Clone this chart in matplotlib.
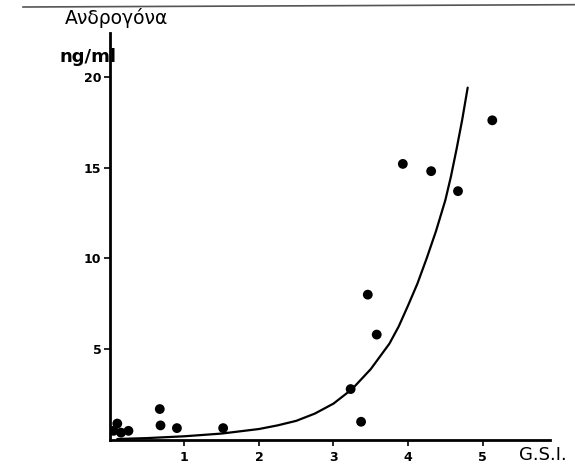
import matplotlib
matplotlib.use("Agg")
import matplotlib.pyplot as plt
from matplotlib.lines import Line2D

# Data
gsi = [0.05, 0.10, 0.15, 0.25, 0.67, 0.68, 0.90, 1.52, 3.23, 3.37, 3.46, 3.58, 3.93, 4.31, 4.67, 5.13]
androgen = [0.5, 0.9, 0.4, 0.5, 1.7, 0.8, 0.65, 0.65, 2.8, 1.0, 8.0, 5.8, 15.2, 14.8, 13.7, 17.6]

curve_x = [0.1, 0.5, 1.0, 1.5, 2.0, 2.25, 2.5, 2.75, 3.0, 3.25, 3.5, 3.75, 3.875, 4.0,
           4.125, 4.25, 4.375, 4.5, 4.575, 4.65, 4.725, 4.8]
curve_y = [0.05, 0.1, 0.2, 0.35, 0.6, 0.8, 1.05, 1.45, 2.0, 2.8, 3.9, 5.3, 6.25, 7.4,
           8.6, 10.0, 11.5, 13.2, 14.5, 16.0, 17.6, 19.4]

x_ticks = [1, 2, 3, 4, 5]
y_ticks = [5, 10, 15, 20]
y_tick_labels = ["5", "10", "15", "20"]

fig = plt.figure(figsize=(5.75, 4.67), dpi=100)
ax = fig.add_axes([0.191, 0.058, 0.765, 0.871])
ax.set_xlim(0, 5.9)
ax.set_ylim(0, 22.4)

ax.plot(curve_x, curve_y, color="black", lw=1.6, solid_capstyle="round",
        solid_joinstyle="round")
ax.scatter(gsi, androgen, s=50, color="black", zorder=3, edgecolors="none")

for s in ["top", "right"]:
    ax.spines[s].set_visible(False)
for s in ["left", "bottom"]:
    ax.spines[s].set_linewidth(2.0)
    ax.spines[s].set_color("black")

ax.set_xticks(x_ticks)
ax.set_xticklabels([str(t) for t in x_ticks], fontsize=9, fontweight="bold")
ax.set_yticks(y_ticks)
ax.set_yticklabels(y_tick_labels, fontsize=9, fontweight="bold")
ax.tick_params(axis="x", direction="out", length=4, width=1.2, pad=4)
ax.tick_params(axis="y", direction="out", length=4, width=1.2, pad=2)

fig.text(0.113, 0.962, "Ανδρογόνα", fontsize=13.5, ha="left", va="center")
fig.text(0.103, 0.878, "ng/ml", fontsize=13, fontweight="bold", ha="left", va="center")
fig.text(0.903, 0.025, "G.S.I.", fontsize=13, ha="left", va="center")

fig.add_artist(Line2D([0.04, 1.0], [0.985, 0.99], color="#555555", lw=1.2, transform=fig.transFigure))

fig.savefig("out.png", dpi=100)
